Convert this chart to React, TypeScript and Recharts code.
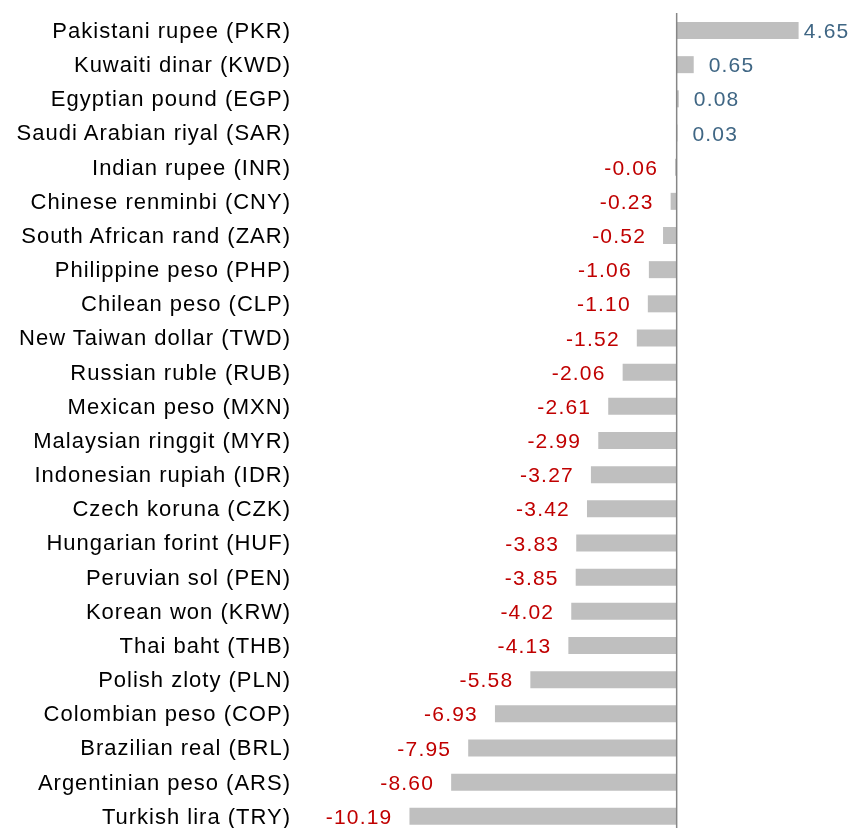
import React from "react";
import { BarChart, Bar, XAxis, YAxis, ReferenceLine, LabelList } from "recharts";

const currencies = [
  "Pakistani rupee (PKR)",
  "Kuwaiti dinar (KWD)",
  "Egyptian pound (EGP)",
  "Saudi Arabian riyal (SAR)",
  "Indian rupee (INR)",
  "Chinese renminbi (CNY)",
  "South African rand (ZAR)",
  "Philippine peso (PHP)",
  "Chilean peso (CLP)",
  "New Taiwan dollar (TWD)",
  "Russian ruble (RUB)",
  "Mexican peso (MXN)",
  "Malaysian ringgit (MYR)",
  "Indonesian rupiah (IDR)",
  "Czech koruna (CZK)",
  "Hungarian forint (HUF)",
  "Peruvian sol (PEN)",
  "Korean won (KRW)",
  "Thai baht (THB)",
  "Polish zloty (PLN)",
  "Colombian peso (COP)",
  "Brazilian real (BRL)",
  "Argentinian peso (ARS)",
  "Turkish lira (TRY)",
];

const changes = [
  4.65, 0.65, 0.08, 0.03, -0.06, -0.23, -0.52, -1.06, -1.1, -1.52, -2.06, -2.61,
  -2.99, -3.27, -3.42, -3.83, -3.85, -4.02, -4.13, -5.58, -6.93, -7.95, -8.6, -10.19,
];

const data = currencies.map((name, i) => ({ name, value: changes[i] }));

const FONT = "'Liberation Sans', Arial, sans-serif";
const CHART_W = 846;

const ValueLabel = (props: any) => {
  const { x, y, width, height, value } = props;
  const left = Math.min(x, x + width);
  const right = Math.max(x, x + width);
  const cy = y + height / 2;
  const text = Number(value).toFixed(2);
  if (value >= 0) {
    const estW = text.length * 11.8;
    const tx = Math.min(right + 15, CHART_W - 3 - estW);
    return (
      <text x={tx} y={cy} dy="0.36em" textAnchor="start" fill="#3F6684" fontSize={21} fontFamily={FONT} letterSpacing={1.2}>
        {text}
      </text>
    );
  }
  return (
    <text x={left - 17} y={cy} dy="0.36em" textAnchor="end" fill="#C00000" fontSize={21} fontFamily={FONT} letterSpacing={1.2}>
      {text}
    </text>
  );
};

export default function App() {
  return (
    <div style={{ position: "fixed", left: 8, top: 8, width: CHART_W, height: 830 }}>
      <BarChart
        width={CHART_W}
        height={830}
        data={data}
        layout="vertical"
        margin={{ top: 5, right: 20, bottom: 5, left: 0 }}
      >
        <XAxis type="number" domain={[-12, 6]} hide allowDataOverflow />
        <YAxis
          type="category"
          dataKey="name"
          width={354}
          axisLine={false}
          tickLine={false}
          tickSize={0}
          tickMargin={71}
          interval={0}
          tick={{ fill: "#000000", fontSize: 22, fontFamily: FONT, letterSpacing: 1.0 }}
        />
        <Bar dataKey="value" fill="#BFBFBF" barSize={17} isAnimationActive={false}>
          <LabelList dataKey="value" content={<ValueLabel />} />
        </Bar>
        <ReferenceLine x={0} stroke="#868686" strokeWidth={1.5} />
      </BarChart>
    </div>
  );
}
